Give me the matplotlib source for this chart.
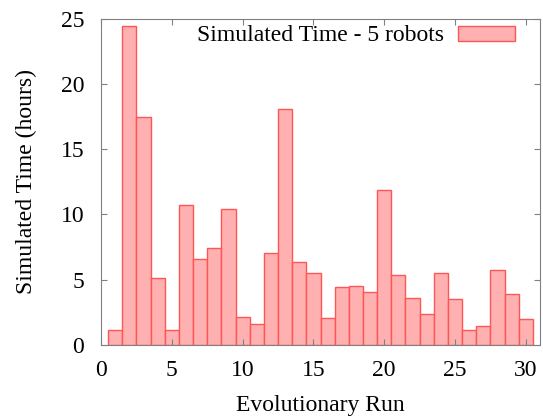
import matplotlib
matplotlib.use("Agg")
import matplotlib.pyplot as plt
import numpy as np

runs = list(range(1, 31))
hours = [1.15, 24.49, 17.45, 5.12, 1.15, 10.70, 6.55, 7.42, 10.41, 2.12,
         1.56, 7.04, 18.07, 6.35, 5.48, 2.07, 4.43, 4.48, 4.02, 11.85,
         5.35, 3.61, 2.38, 5.50, 3.53, 1.13, 1.46, 5.76, 3.91, 1.97]
xticks = [0, 5, 10, 15, 20, 25, 30]
yticks = [0, 5, 10, 15, 20, 25]

plt.rcParams['font.family'] = ['Liberation Serif', 'DejaVu Serif']

fig = plt.figure(figsize=(5.43, 4.2), dpi=100)
ax = fig.add_axes([0.186, 0.179, 0.8085, 0.776])

ax.bar(runs, hours, width=1.0, color='#ffb0b0', edgecolor='#ff5555',
       linewidth=1.0, label='Simulated Time - 5 robots')

ax.set_xlim(0, 31.0)
ax.set_ylim(0, 25)
ax.set_xticks(xticks)
ax.set_yticks(yticks)
ax.tick_params(direction='in', top=True, right=True, length=4, width=0.8,
               color='#808080', labelsize=17)
ax.tick_params(axis='x', pad=11)
ax.tick_params(axis='y', pad=12)
for s in ax.spines.values():
    s.set_color('#808080')
    s.set_linewidth(0.8)

ax.set_xlabel('Evolutionary Run', fontsize=17, labelpad=10)
ax.set_ylabel('Simulated Time (hours)', fontsize=17, labelpad=17)

leg = ax.legend(loc='center right', bbox_to_anchor=(0.943, 0.948),
                frameon=False, markerfirst=False, fontsize=17,
                handlelength=2.4, handleheight=0.6, borderpad=0,
                borderaxespad=0, handletextpad=0.6)

fig.savefig('out.png', dpi=100)
